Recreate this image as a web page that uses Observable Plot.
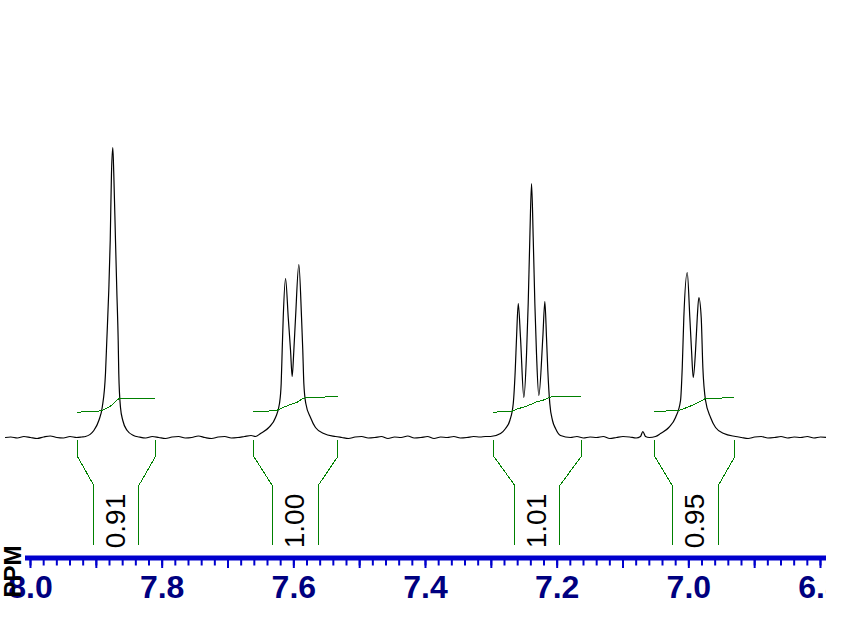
<!DOCTYPE html>
<html><head><meta charset="utf-8">
<script src="https://cdn.jsdelivr.net/npm/d3@7"></script>
<script src="https://cdn.jsdelivr.net/npm/@observablehq/plot@0.6"></script>
<style>
html,body{margin:0;padding:0;background:#fff;}
#chart{width:859px;height:622px;overflow:hidden;background:#fff;}
#chart svg{overflow:hidden;}
</style></head><body><div id="chart"></div>
<script>
// ---- spectrum samples [ppm, intensity] ----
const baselineA = [[8.038,0],[8.030,0.5],[8.020,-0.5],[8.010,1],[8.000,0],[7.990,-1],[7.980,0.5],[7.970,1.5],[7.960,0],[7.950,-0.5],[7.940,1],[7.930,0],[7.922,0.5]];
const peak1 = [[7.9165,1],[7.9038,7],[7.8962,17],[7.8911,30],[7.8861,64],[7.8841,97],[7.8811,147],[7.8789,197],[7.8770,264],[7.8750,290],[7.8735,264],[7.8709,197],[7.8689,147],[7.8668,97],[7.8659,64],[7.8633,30],[7.8598,17],[7.8531,7],[7.8435,2]];
const baselineB = [[7.835,0.5],[7.825,-0.5],[7.815,1],[7.805,0],[7.795,-1],[7.785,0.5],[7.775,1],[7.765,-0.5],[7.755,0],[7.745,1.5],[7.735,0],[7.725,-1],[7.715,0.5],[7.705,1],[7.695,-0.5],[7.685,0],[7.675,1],[7.665,2]];
const peak2 = [[7.6582,1],[7.6506,4],[7.6380,10],[7.6278,20],[7.6218,34],[7.6192,54],[7.6177,87],[7.6161,120],[7.6126,159],[7.6085,120],[7.6050,87],[7.6025,61],[7.6000,87],[7.5974,120],[7.5924,173],[7.5883,120],[7.5864,87],[7.5848,54],[7.5818,34],[7.5747,20],[7.5671,10],[7.5545,4],[7.5367,1]];
const baselineC = [[7.527,0],[7.517,-1],[7.507,0.5],[7.497,1],[7.487,-0.5],[7.477,0],[7.467,1],[7.457,-1],[7.447,0.5],[7.437,0],[7.427,1.5],[7.417,-0.5],[7.407,0],[7.397,1],[7.387,-1],[7.377,0.5],[7.367,0],[7.357,1],[7.347,-0.5],[7.337,0],[7.327,1],[7.317,0.5],[7.309,1]];
const peak3 = [[7.3012,1],[7.2860,4],[7.2784,9],[7.2719,17],[7.2667,34],[7.2637,67],[7.2617,100],[7.2591,134],[7.2557,100],[7.2506,40],[7.2465,84],[7.2440,134],[7.2415,200],[7.2389,254],[7.2364,200],[7.2339,134],[7.2314,84],[7.2279,42],[7.2218,100],[7.2187,136],[7.2162,100],[7.2142,67],[7.2112,34],[7.2071,17],[7.2025,9],[7.1949,2],[7.1797,0]];
const baselineD = [[7.170,1],[7.160,-0.5],[7.150,0.5],[7.140,0],[7.130,1],[7.120,-1],[7.110,0],[7.100,1],[7.090,0.5],[7.080,-0.5]];
const peak4 = [[7.0734,1],[7.0699,6],[7.0658,1],[7.0600,0],[7.0506,1],[7.0430,4],[7.0304,10],[7.0202,20],[7.0126,37],[7.0100,70],[7.0076,120],[7.0024,165],[6.9985,120],[6.9959,87],[6.9933,60],[6.9898,87],[6.9872,120],[6.9848,140],[6.9812,120],[6.9787,70],[6.9746,37],[6.9670,20],[6.9594,10],[6.9468,4],[6.9291,1]];
const baselineE = [[6.920,0],[6.910,-1],[6.900,0.5],[6.890,1],[6.880,-0.5],[6.870,0],[6.860,1],[6.850,-0.5],[6.840,0.5],[6.830,0],[6.820,1],[6.810,-0.5],[6.800,0.5],[6.790,0]];

// ---- integral curves [ppm, value] ----
const integral1 = [[7.9286,25.3],[7.8967,26.3],[7.8887,27.7],[7.8811,30.3],[7.8754,33],[7.8709,36],[7.8659,38.7],[7.8618,39.2],[7.8116,39.3]];
const integral2 = [[7.6608,26],[7.6278,26.7],[7.6228,28],[7.6152,30.3],[7.6050,33],[7.5949,35.3],[7.5873,38.7],[7.5823,39.7],[7.5697,40.3],[7.5341,40.7]];
const integral3 = [[7.2971,25.3],[7.2683,26.3],[7.2607,28.7],[7.2506,30.3],[7.2379,33.7],[7.2329,35.3],[7.2227,37],[7.2127,39.7],[7.2075,41],[7.1645,41]];
const integral4 = [[7.0516,26],[7.0176,27],[7.0100,28],[7.0024,30.3],[6.9924,32.7],[6.9848,35.3],[6.9757,38.7],[6.9670,39.3],[6.9316,39.7]];

// ---- integration brackets (outer-left, inner-left, inner-right, outer-right in ppm) and values ----
const bracketEdges = [[7.9286,7.9038,7.8355,7.8101],[7.6608,7.6328,7.5630,7.5332],[7.2962,7.2643,7.1960,7.1635],[7.0516,7.0252,6.9553,6.9301]];
const integralValues = ["0.91","1.00","1.01","0.95"];

// ---- axis ticks ----
const tickLabels = [8.0, 7.8, 7.6, 7.4, 7.2, 7.0, 6.8];
const majorTicks = d3.range(0, 13).map(i => +(8.0 - i * 0.1).toFixed(2));
const minorTicks = d3.range(0, 61).map(i => +(8.0 - i * 0.02).toFixed(2));
const axisTitle = "PPM";

// ---- build tables ----
const spectrum = [...baselineA, ...peak1, ...baselineB, ...peak2, ...baselineC, ...peak3, ...baselineD, ...peak4, ...baselineE]
  .map(([ppm, i]) => ({ppm, i}))
  .sort((a, b) => b.ppm - a.ppm);
const integrals = [integral1, integral2, integral3, integral4]
  .flatMap((arr, k) => arr.map(([ppm, v]) => ({ppm, v, region: k})));

const BR_TOP = -3, BR_K1 = -19, BR_K2 = -48, BR_BOT = -107.5, LABEL_Y = -83.5;
const brackets = [];
bracketEdges.forEach((e, k) => {
  brackets.push({g: "L" + k, x: e[0], y: BR_TOP}, {g: "L" + k, x: e[0], y: BR_K1}, {g: "L" + k, x: e[1], y: BR_K2}, {g: "L" + k, x: e[1], y: BR_BOT});
  brackets.push({g: "R" + k, x: e[3], y: BR_TOP}, {g: "R" + k, x: e[3], y: BR_K1}, {g: "R" + k, x: e[2], y: BR_K2}, {g: "R" + k, x: e[2], y: BR_BOT});
});
const labels = bracketEdges.map((e, k) => ({x: (e[1] + e[2]) / 2, t: integralValues[k]}));

const blue = "#0000cd", navy = "#000080", green = "#008000";
const FONT = "'Liberation Sans', Arial, sans-serif";

const chart = Plot.plot({
  width: 826, height: 622,
  marginLeft: 27, marginRight: 0, marginTop: 0, marginBottom: 64.5,
  style: {background: "#fff", overflow: "hidden", fontFamily: FONT},
  x: {domain: [8.0, 6.8], range: [30, 820], label: null},
  y: {domain: [0, 290], range: [437, 147], axis: null},
  marks: [
    Plot.line(spectrum, {x: "ppm", y: "i", stroke: "#000", strokeWidth: 1.2, curve: "monotone-x"}),
    Plot.line(integrals, {x: "ppm", y: "v", z: "region", stroke: green, strokeWidth: 1, shapeRendering: "crispEdges"}),
    Plot.line(brackets, {x: "x", y: "y", z: "g", stroke: green, strokeWidth: 1, shapeRendering: "crispEdges"}),
    Plot.text(labels, {x: "x", y: () => LABEL_Y, text: "t", rotate: -90, fontSize: 28, fill: "#000", fontFamily: FONT, ariaLabel: "integral-label"}),
    Plot.frame({anchor: "bottom", stroke: blue, strokeWidth: 5}),
    Plot.axisX(minorTicks, {anchor: "bottom", tickSize: 8, stroke: blue, strokeWidth: 2, tickFormat: () => ""}),
    Plot.axisX(majorTicks, {anchor: "bottom", tickSize: 10.5, stroke: blue, strokeWidth: 2, tickFormat: () => ""}),
    Plot.axisX(tickLabels, {anchor: "bottom", tickSize: 0, tickPadding: 17, tickFormat: d => d.toFixed(1), fontSize: 32, fontWeight: "bold", fill: navy, fontFamily: FONT}),
    Plot.text([axisTitle], {x: () => 8.0258, y: () => -134, rotate: -90, fontSize: 24, fontWeight: "bold", fill: "#000", fontFamily: FONT, ariaLabel: "ppm-title"})
  ]
});
// condensed look of the original's vertical texts
d3.select(chart).selectAll("g[aria-label='integral-label'] text")
  .attr("textLength", 45).attr("lengthAdjust", "spacingAndGlyphs");
d3.select(chart).selectAll("g[aria-label='ppm-title'] text")
  .attr("textLength", 50).attr("lengthAdjust", "spacingAndGlyphs");
document.getElementById("chart").appendChild(chart);
</script></body></html>
